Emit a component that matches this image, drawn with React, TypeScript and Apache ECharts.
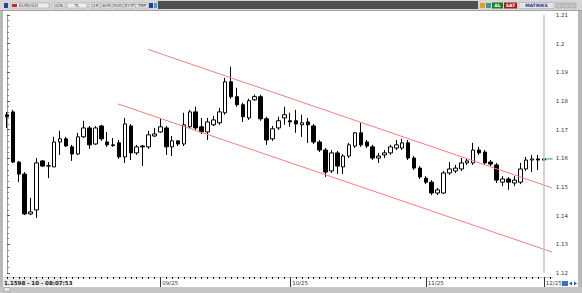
import React, { useEffect, useRef } from "react";
import * as echarts from "echarts";

// ---- data ----
const opens = [
  1.1752, 1.1762, 1.1587, 1.1545, 1.1406, 1.1420, 1.1591, 1.1573, 1.1570, 1.1657,
  1.1668, 1.1640, 1.1615, 1.1675, 1.1706, 1.1650, 1.1713, 1.1657, 1.1647, 1.1654,
  1.1605, 1.1713, 1.1619, 1.1643, 1.1640, 1.1678, 1.1692, 1.1706, 1.1640, 1.1661,
  1.1650, 1.1710, 1.1762, 1.1710, 1.1692, 1.1717, 1.1724, 1.1759, 1.1867, 1.1815,
  1.1787, 1.1741, 1.1804, 1.1815, 1.1738, 1.1668, 1.1706, 1.1741, 1.1731, 1.1731,
  1.1717, 1.1727, 1.1713, 1.1657, 1.1629, 1.1556, 1.1619, 1.1570, 1.1608, 1.1643,
  1.1689, 1.1657, 1.1640, 1.1601, 1.1612, 1.1619, 1.1636, 1.1636, 1.1654, 1.1601,
  1.1566, 1.1531, 1.1517, 1.1479, 1.1479, 1.1549, 1.1556, 1.1563, 1.1584, 1.1584,
  1.1629, 1.1622, 1.1587, 1.1577, 1.1517, 1.1528, 1.1514, 1.1517, 1.1563, 1.1594,
  1.1598, 1.1594,
];
const closes = [
  1.1745, 1.1587, 1.1545, 1.1406, 1.1413, 1.1584, 1.1573, 1.1574, 1.1657, 1.1668,
  1.1643, 1.1615, 1.1675, 1.1706, 1.1647, 1.1706, 1.1668, 1.1647, 1.1645, 1.1605,
  1.1720, 1.1619, 1.1640, 1.1640, 1.1682, 1.1685, 1.1710, 1.1640, 1.1661, 1.1650,
  1.1717, 1.1762, 1.1706, 1.1692, 1.1727, 1.1734, 1.1762, 1.1867, 1.1815, 1.1787,
  1.1745, 1.1801, 1.1815, 1.1738, 1.1664, 1.1703, 1.1731, 1.1752, 1.1727, 1.1720,
  1.1724, 1.1717, 1.1657, 1.1629, 1.1552, 1.1619, 1.1573, 1.1608, 1.1647, 1.1689,
  1.1647, 1.1643, 1.1601, 1.1608, 1.1619, 1.1640, 1.1647, 1.1654, 1.1601, 1.1566,
  1.1535, 1.1517, 1.1479, 1.1490, 1.1549, 1.1563, 1.1566, 1.1584, 1.1591, 1.1629,
  1.1619, 1.1584, 1.1580, 1.1524, 1.1528, 1.1517, 1.1524, 1.1563, 1.1594, 1.1598,
  1.1594, 1.1598,
];
const lows = [
  1.1706, 1.1584, 1.1517, 1.1402, 1.1402, 1.1392, 1.1570, 1.1531, 1.1570, 1.1612,
  1.1640, 1.1591, 1.1612, 1.1671, 1.1633, 1.1647, 1.1661, 1.1640, 1.1640, 1.1598,
  1.1584, 1.1594, 1.1612, 1.1573, 1.1633, 1.1675, 1.1689, 1.1612, 1.1608, 1.1643,
  1.1643, 1.1706, 1.1699, 1.1685, 1.1664, 1.1713, 1.1717, 1.1752, 1.1808, 1.1780,
  1.1727, 1.1734, 1.1801, 1.1731, 1.1647, 1.1661, 1.1699, 1.1717, 1.1710, 1.1689,
  1.1675, 1.1654, 1.1650, 1.1622, 1.1535, 1.1549, 1.1545, 1.1545, 1.1601, 1.1636,
  1.1640, 1.1636, 1.1594, 1.1584, 1.1601, 1.1612, 1.1629, 1.1629, 1.1594, 1.1559,
  1.1528, 1.1510, 1.1472, 1.1472, 1.1476, 1.1542, 1.1549, 1.1556, 1.1577, 1.1577,
  1.1612, 1.1577, 1.1573, 1.1514, 1.1503, 1.1490, 1.1503, 1.1510, 1.1556, 1.1552,
  1.1559, 1.1591,
];
const highs = [
  1.1762, 1.1769, 1.1591, 1.1552, 1.1462, 1.1601, 1.1594, 1.1587, 1.1675, 1.1696,
  1.1675, 1.1647, 1.1689, 1.1731, 1.1713, 1.1713, 1.1717, 1.1692, 1.1671, 1.1664,
  1.1741, 1.1720, 1.1647, 1.1647, 1.1696, 1.1706, 1.1738, 1.1713, 1.1678, 1.1664,
  1.1759, 1.1769, 1.1780, 1.1741, 1.1741, 1.1748, 1.1776, 1.1881, 1.1920, 1.1846,
  1.1794, 1.1808, 1.1822, 1.1822, 1.1745, 1.1713, 1.1745, 1.1780, 1.1759, 1.1769,
  1.1752, 1.1741, 1.1720, 1.1664, 1.1636, 1.1629, 1.1626, 1.1615, 1.1654, 1.1692,
  1.1724, 1.1664, 1.1647, 1.1619, 1.1629, 1.1647, 1.1664, 1.1668, 1.1664, 1.1608,
  1.1573, 1.1538, 1.1524, 1.1497, 1.1556, 1.1587, 1.1577, 1.1601, 1.1601, 1.1654,
  1.1640, 1.1629, 1.1594, 1.1584, 1.1538, 1.1535, 1.1538, 1.1584, 1.1605, 1.1612,
  1.1612, 1.1601,
];
const categoryCount = 93;
const categories = Array.from({ length: categoryCount }, (_, i) => String(i));
const monthLabels: Record<number, string> = { 26: "09/25", 48: "10/25", 71: "11/25", 91: "12/25" };
const upperChannel = [[23.9, 1.198], [92.4, 1.1497]];
const lowerChannel = [[18.8, 1.179], [92.4, 1.1273]];
const lastPrice = 1.1598;
const yMin = 1.12;
const yMax = 1.21;
const yStep = 0.01;
const statusText = "1.1598 - 10 - 08:07:53";
const toolbarButtons = [
  { x: 52, w: 13, t: "GÜN" },
  { x: 67, w: 20, t: "TL" },
  { x: 89, w: 11, t: "12R" },
  { x: 101, w: 11, t: "6HR" },
  { x: 113, w: 10, t: "5VD" },
  { x: 124, w: 11, t: "5YYF" },
  { x: 136, w: 12, t: "TMP" },
];

const FONT = "DejaVu Sans";

export default function App() {
  const ref = useRef<HTMLDivElement>(null);
  useEffect(() => {
    document.body.style.margin = "0";
    if (!ref.current) return;
    const chart = echarts.init(ref.current, undefined, { renderer: "svg" });
    const candles = opens.map((o, i) => [o, closes[i], lows[i], highs[i]]);
    const isMonth = (i: number) => monthLabels[i] !== undefined;

    const graphic: any[] = [
      // frame edges
      { type: "rect", shape: { x: 0, y: 0, width: 3, height: 293 }, style: { fill: "#b9b9b9" }, z: 100 },
      { type: "rect", shape: { x: 578, y: 0, width: 4, height: 293 }, style: { fill: "#b9b9b9" }, z: 100 },
      // top toolbar
      { type: "rect", shape: { x: 0, y: 0, width: 582, height: 10 }, style: { fill: "#d6d6d6" }, z: 100 },
      { type: "rect", shape: { x: 0, y: 10, width: 582, height: 1 }, style: { fill: "#a0a0a0" }, z: 100 },
      { type: "rect", shape: { x: 158, y: 1, width: 320, height: 8 }, style: { fill: "#4f4f4f" }, z: 101 },
      { type: "rect", shape: { x: 4, y: 3, width: 4, height: 5 }, style: { fill: "#24439a" }, z: 101 },
      { type: "rect", shape: { x: 11, y: 3, width: 38, height: 5 }, style: { fill: "#ececec", stroke: "#9a9a9a", lineWidth: 0.5 }, z: 101 },
      { type: "rect", shape: { x: 12, y: 4, width: 5, height: 3 }, style: { fill: "#c0282d" }, z: 102 },
      { type: "text", x: 19, y: 5.5, style: { text: "EURUSD", fontSize: 4.5, fontFamily: FONT, fill: "#333", verticalAlign: "middle" }, z: 102 },
      ...toolbarButtons.flatMap((b) => [
        { type: "rect", shape: { x: b.x, y: 3, width: b.w, height: 5 }, style: { fill: "#ececec", stroke: "#9a9a9a", lineWidth: 0.5 }, z: 101 },
        { type: "text", x: b.x + b.w / 2, y: 5.5, style: { text: b.t, fontSize: 4, fontFamily: FONT, fill: "#333", align: "center", verticalAlign: "middle" }, z: 102 },
      ]),
      { type: "rect", shape: { x: 149, y: 3, width: 4, height: 5 }, style: { fill: "#2a3f8f" }, z: 101 },
      { type: "rect", shape: { x: 154, y: 3, width: 3, height: 5 }, style: { fill: "#3aa0e0" }, z: 101 },
      { type: "rect", shape: { x: 480, y: 3, width: 5, height: 5 }, style: { fill: "#e0a020" }, z: 101 },
      { type: "rect", shape: { x: 486, y: 3, width: 5, height: 5 }, style: { fill: "#3a9a8a" }, z: 101 },
      { type: "rect", shape: { x: 492, y: 2.5, width: 11, height: 6 }, style: { fill: "#1f7a24" }, z: 101 },
      { type: "text", x: 497.5, y: 5.5, style: { text: "AL", fontSize: 4.5, fontWeight: "bold", fontFamily: FONT, fill: "#fff", align: "center", verticalAlign: "middle" }, z: 102 },
      { type: "rect", shape: { x: 504, y: 2.5, width: 13, height: 6 }, style: { fill: "#9c1c1c" }, z: 101 },
      { type: "text", x: 510.5, y: 5.5, style: { text: "SAT", fontSize: 4.5, fontWeight: "bold", fontFamily: FONT, fill: "#fff", align: "center", verticalAlign: "middle" }, z: 102 },
      { type: "rect", shape: { x: 519, y: 2.5, width: 35, height: 6 }, style: { fill: "#e4e4ec", stroke: "#a0a0a0", lineWidth: 0.5 }, z: 101 },
      { type: "text", x: 536.5, y: 5.5, style: { text: "MATRIKS", fontSize: 4.5, fontWeight: "bold", fontFamily: FONT, fill: "#2b3580", align: "center", verticalAlign: "middle" }, z: 102 },
      { type: "rect", shape: { x: 556, y: 3, width: 6, height: 5 }, style: { fill: "#c4c4c4", stroke: "#999", lineWidth: 0.5 }, z: 101 },
      { type: "rect", shape: { x: 563, y: 3, width: 6, height: 5 }, style: { fill: "#c4c4c4", stroke: "#999", lineWidth: 0.5 }, z: 101 },
      { type: "rect", shape: { x: 570, y: 3, width: 6, height: 5 }, style: { fill: "#c4c4c4", stroke: "#999", lineWidth: 0.5 }, z: 101 },
      // bottom bar
      { type: "rect", shape: { x: 0, y: 287, width: 582, height: 6 }, style: { fill: "#c6c6c6" }, z: 100 },
      { type: "rect", shape: { x: 4, y: 287.5, width: 6, height: 4 }, style: { fill: "#e6e6e6", stroke: "#8a8a8a", lineWidth: 0.5 }, z: 101 },
      { type: "rect", shape: { x: 3, y: 279, width: 62, height: 7 }, style: { fill: "#e9e9e9" }, z: 100 },
      { type: "text", x: 4, y: 282.5, style: { text: statusText, fontSize: 5.5, fontWeight: "bold", fontFamily: FONT, fill: "#222", verticalAlign: "middle" }, z: 102 },
      { type: "rect", shape: { x: 562, y: 281, width: 6, height: 5 }, style: { fill: "#3d6fc0" }, z: 101 },
      { type: "polygon", shape: { points: [[569, 283.5], [572, 281.5], [572, 285.5]] }, style: { fill: "#2d55a8" }, z: 101 },
      { type: "polygon", shape: { points: [[577, 283.5], [574, 281.5], [574, 285.5]] }, style: { fill: "#2d55a8" }, z: 101 },
    ];

    chart.setOption({
      animation: false,
      backgroundColor: "#ffffff",
      textStyle: { fontFamily: FONT },
      grid: { left: 4, right: 29.3, top: 15, bottom: 20, containLabel: false },
      xAxis: [
        {
          type: "category",
          data: categories,
          boundaryGap: true,
          position: "bottom",
          offset: 4,
          axisLine: { show: true, lineStyle: { color: "#c8c8c8", width: 1 } },
          axisTick: { show: true, interval: 0, alignWithLabel: true, length: 2, lineStyle: { color: "#111", width: 1 } },
          axisLabel: { show: false },
          splitLine: { show: false },
        },
        {
          type: "category",
          data: categories,
          boundaryGap: true,
          position: "bottom",
          offset: 4,
          axisLine: { show: false },
          axisTick: { show: true, alignWithLabel: true, interval: (i: number) => isMonth(i), length: 10, lineStyle: { color: "#333", width: 1 } },
          axisLabel: {
            show: true,
            interval: (i: number) => isMonth(i),
            formatter: (_v: string, i: number) => monthLabels[i] ?? "",
            align: "left",
            margin: 3,
            padding: [0, 0, 0, 2],
            fontSize: 5.5,
            color: "#333",
            fontFamily: FONT,
          },
          splitLine: { show: false },
        },
        { type: "value", min: -0.5, max: 92.5, show: false },
      ],
      yAxis: {
        type: "value",
        position: "right",
        min: yMin,
        max: yMax,
        interval: yStep,
        axisLine: { show: true, lineStyle: { color: "#9a9a9a" } },
        axisTick: { show: true, length: 3, lineStyle: { color: "#555" } },
        minorTick: { show: true, splitNumber: 5, length: 2, lineStyle: { color: "#777" } },
        axisLabel: {
          fontSize: 5.5,
          color: "#333",
          margin: 3,
          fontFamily: FONT,
          formatter: (v: number) => String(parseFloat(v.toFixed(2))),
        },
        splitLine: { show: false },
      },
      series: [
        {
          type: "candlestick",
          xAxisIndex: 0,
          yAxisIndex: 0,
          data: candles,
          barWidth: 4,
          itemStyle: { color: "#ffffff", color0: "#000000", borderColor: "#000000", borderColor0: "#000000", borderWidth: 1 },
          markLine: {
            silent: true,
            symbol: ["none", "none"],
            label: { show: false },
            lineStyle: { color: "#c4c4c4", width: 1.5, type: "solid" },
            data: [{ xAxis: "91" }],
          },
          z: 3,
        },
        {
          type: "line",
          xAxisIndex: 2,
          yAxisIndex: 0,
          data: upperChannel,
          symbol: "none",
          silent: true,
          lineStyle: { color: "#ef7f7f", width: 1 },
          z: 4,
        },
        {
          type: "line",
          xAxisIndex: 2,
          yAxisIndex: 0,
          data: lowerChannel,
          symbol: "none",
          silent: true,
          lineStyle: { color: "#ef7f7f", width: 1 },
          z: 4,
        },
        {
          type: "line",
          xAxisIndex: 2,
          yAxisIndex: 0,
          data: [[91.35, lastPrice], [92.5, lastPrice]],
          symbol: "none",
          silent: true,
          lineStyle: { color: "#3fa8a8", width: 1.2 },
          z: 5,
        },
      ],
      graphic,
    });
    return () => chart.dispose();
  }, []);
  return <div ref={ref} style={{ width: 582, height: 293 }} />;
}
